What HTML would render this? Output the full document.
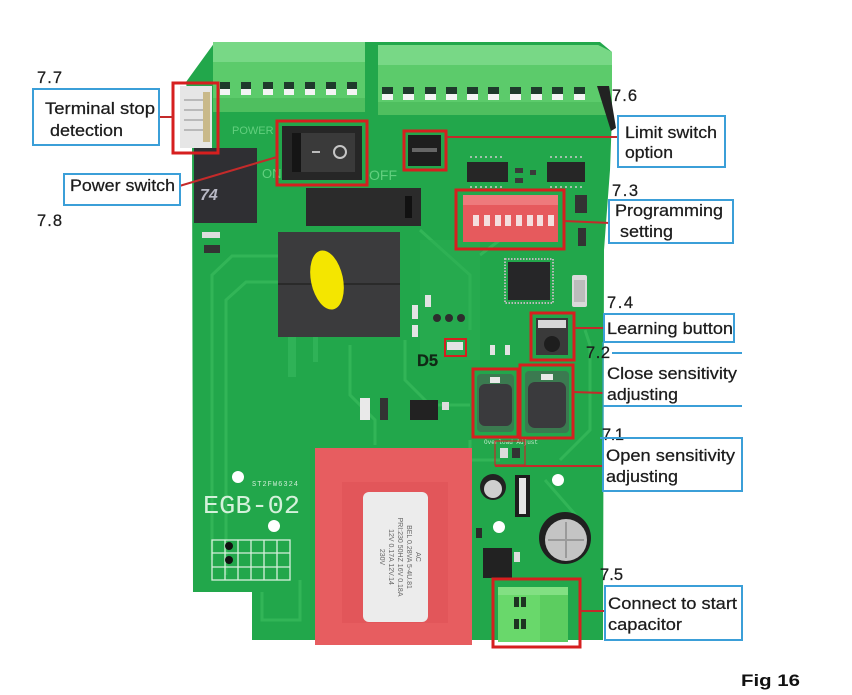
<!DOCTYPE html>
<html><head><meta charset="utf-8"><style>
html,body{margin:0;padding:0;background:#fff;}
svg{display:block;}
.lb{font-family:"Liberation Sans",Arial,sans-serif;font-size:16.5px;fill:#1c1c1c;stroke:#1c1c1c;stroke-width:0.25;}
</style></head><body>
<svg width="852" height="695" viewBox="0 0 852 695" xmlns="http://www.w3.org/2000/svg">
<rect width="852" height="695" fill="#fff"/>

<!-- board -->
<polygon points="215,42 600,42 612,52 612,115 610,170 604,250 603,640 252,640 252,592 193,592 192,130 186,82" fill="#22a74b"/>
<!-- traces -->
<g fill="none" stroke="#36b95b" stroke-width="3" opacity="0.8">
<polyline points="212,560 212,275 232,256 292,256"/>
<polyline points="226,575 226,300 246,282 278,282"/>
<polyline points="262,592 262,620 300,620 300,580"/>
<polyline points="350,345 350,395 375,420 375,445"/>
<polyline points="405,340 405,380 430,405 470,405"/>
<polyline points="420,230 470,275 470,330"/>
<polyline points="480,255 500,240 520,240"/>
<polyline points="585,330 590,345 590,430 560,460"/>
<polyline points="470,440 470,460 500,460"/>
<polyline points="545,480 580,520"/>
</g>
<rect x="420" y="240" width="60" height="120" fill="#2aae52" opacity="0.5"/>

<!-- left terminal block -->
<rect x="213" y="42" width="152" height="70" fill="#5ccb6b"/>
<rect x="213" y="42" width="152" height="20" fill="#78d886"/>
<rect x="213" y="98" width="152" height="14" fill="#4fbf5f"/>
<g>
<rect x="220" y="82" width="10" height="7" fill="#1f3a2c"/><rect x="220" y="89" width="10" height="6" fill="#f4f4f4"/>
<rect x="241" y="82" width="10" height="7" fill="#1f3a2c"/><rect x="241" y="89" width="10" height="6" fill="#f4f4f4"/>
<rect x="263" y="82" width="10" height="7" fill="#1f3a2c"/><rect x="263" y="89" width="10" height="6" fill="#f4f4f4"/>
<rect x="284" y="82" width="10" height="7" fill="#1f3a2c"/><rect x="284" y="89" width="10" height="6" fill="#f4f4f4"/>
<rect x="305" y="82" width="10" height="7" fill="#1f3a2c"/><rect x="305" y="89" width="10" height="6" fill="#f4f4f4"/>
<rect x="326" y="82" width="10" height="7" fill="#1f3a2c"/><rect x="326" y="89" width="10" height="6" fill="#f4f4f4"/>
<rect x="347" y="82" width="10" height="7" fill="#1f3a2c"/><rect x="347" y="89" width="10" height="6" fill="#f4f4f4"/>
</g>

<!-- right terminal block -->
<polygon points="378,45 598,45 612,52 612,115 378,115" fill="#5ccb6b"/>
<polygon points="378,45 598,45 612,52 612,65 378,65" fill="#78d886"/>
<rect x="378" y="102" width="234" height="13" fill="#4fbf5f"/>
<g fill="#1f3a2c">
<rect x="382" y="87" width="11" height="7"/><rect x="403" y="87" width="11" height="7"/><rect x="425" y="87" width="11" height="7"/><rect x="446" y="87" width="11" height="7"/><rect x="467" y="87" width="11" height="7"/><rect x="488" y="87" width="11" height="7"/><rect x="510" y="87" width="11" height="7"/><rect x="531" y="87" width="11" height="7"/><rect x="552" y="87" width="11" height="7"/><rect x="574" y="87" width="11" height="7"/>
</g>
<g fill="#f4f4f4">
<rect x="382" y="94" width="11" height="6"/><rect x="403" y="94" width="11" height="6"/><rect x="425" y="94" width="11" height="6"/><rect x="446" y="94" width="11" height="6"/><rect x="467" y="94" width="11" height="6"/><rect x="488" y="94" width="11" height="6"/><rect x="510" y="94" width="11" height="6"/><rect x="531" y="94" width="11" height="6"/><rect x="552" y="94" width="11" height="6"/><rect x="574" y="94" width="11" height="6"/>
</g>
<polygon points="597,86 609,86 616,128 611,131" fill="#222"/>

<!-- white connector 7.7 -->
<rect x="180" y="86" width="32" height="62" fill="#e6e6e6"/>
<g stroke="#b9b9b9" stroke-width="2"><line x1="184" y1="100" x2="208" y2="100"/><line x1="184" y1="110" x2="208" y2="110"/><line x1="184" y1="120" x2="208" y2="120"/><line x1="184" y1="130" x2="208" y2="130"/></g>
<rect x="203" y="92" width="7" height="50" fill="#c9b98a"/>

<!-- faint board labels -->
<text x="232" y="134" font-family="Liberation Sans,sans-serif" font-size="11" fill="#62cf7e">POWER</text>
<text x="262" y="178" font-family="Liberation Sans,sans-serif" font-size="13" fill="#62cf7e">ON</text>
<text x="369" y="180" font-family="Liberation Sans,sans-serif" font-size="14" fill="#62cf7e">OFF</text>

<!-- power switch -->
<rect x="282" y="126" width="80" height="54" fill="#262626"/>
<rect x="292" y="133" width="63" height="39" fill="#3a3a3a"/>
<rect x="292" y="133" width="9" height="39" fill="#151515"/>
<rect x="312" y="151" width="8" height="2" fill="#bbb"/>
<circle cx="340" cy="152" r="6" fill="none" stroke="#c6c6c6" stroke-width="2"/>

<!-- small relay -->
<rect x="194" y="148" width="63" height="75" fill="#2f2f33"/>
<text x="200" y="200" font-family="Liberation Sans,sans-serif" font-size="16" font-style="italic" font-weight="bold" fill="#b8b8c4">74</text>
<rect x="202" y="232" width="18" height="6" fill="#ddd"/>
<rect x="204" y="245" width="16" height="8" fill="#333"/>

<!-- fuse holder -->
<rect x="306" y="188" width="115" height="38" fill="#2b2b2b"/>
<rect x="405" y="196" width="7" height="22" fill="#111"/>

<!-- relays -->
<rect x="278" y="232" width="122" height="105" fill="#3b3b3d"/>
<line x1="278" y1="284" x2="400" y2="284" stroke="#2a2a2a" stroke-width="2"/>
<ellipse cx="327" cy="280" rx="16" ry="30" fill="#f4e600" transform="rotate(-12 327 280)"/>
<rect x="288" y="337" width="8" height="40" fill="#2fb257"/>
<rect x="313" y="337" width="5" height="25" fill="#2fb257"/>

<!-- jumper -->
<rect x="408" y="135" width="33" height="31" fill="#1e1e1e"/>
<rect x="412" y="148" width="25" height="4" fill="#666"/>

<!-- ICs -->
<rect x="467" y="162" width="41" height="20" fill="#262626"/>
<rect x="547" y="162" width="38" height="20" fill="#262626"/>
<g stroke="#ccc" stroke-width="1.5">
<line x1="470" y1="157" x2="505" y2="157" stroke-dasharray="2 3"/>
<line x1="470" y1="187" x2="505" y2="187" stroke-dasharray="2 3"/>
<line x1="550" y1="157" x2="583" y2="157" stroke-dasharray="2 3"/>
<line x1="550" y1="187" x2="583" y2="187" stroke-dasharray="2 3"/>
</g>
<g fill="#3a3a3a"><rect x="515" y="168" width="8" height="5"/><rect x="515" y="178" width="8" height="5"/><rect x="530" y="170" width="6" height="5"/></g>

<!-- DIP -->
<rect x="463" y="195" width="95" height="47" fill="#e65a5d"/>
<rect x="463" y="195" width="95" height="10" fill="#ee7a7c"/>
<g fill="#f4dede">
<rect x="473" y="215" width="6" height="11"/><rect x="484" y="215" width="6" height="11"/><rect x="495" y="215" width="6" height="11"/><rect x="505" y="215" width="6" height="11"/><rect x="516" y="215" width="6" height="11"/><rect x="527" y="215" width="6" height="11"/><rect x="537" y="215" width="6" height="11"/><rect x="548" y="215" width="6" height="11"/>
</g>
<rect x="575" y="195" width="12" height="18" fill="#333"/>
<rect x="578" y="228" width="8" height="18" fill="#333"/>

<!-- MCU -->
<rect x="505" y="259" width="48" height="44" fill="none" stroke="#bbb" stroke-width="2" stroke-dasharray="1.5 1.5"/>
<rect x="508" y="262" width="42" height="38" fill="#262628"/>
<!-- crystal -->
<rect x="572" y="275" width="15" height="32" fill="#d9d9d9" rx="2"/>
<rect x="574" y="280" width="11" height="22" fill="#bcbcbc"/>

<!-- learning button -->
<rect x="536" y="318" width="32" height="37" fill="#3a3a3a"/>
<rect x="538" y="320" width="28" height="8" fill="#d8d8d8"/>
<circle cx="552" cy="344" r="8" fill="#1e1e1e"/>

<!-- small smd near D5 -->
<g fill="#2d2d2d">
<circle cx="437" cy="318" r="4"/><circle cx="449" cy="318" r="4"/><circle cx="461" cy="318" r="4"/>
</g>
<g fill="#e3e3e3"><rect x="412" y="305" width="6" height="14"/><rect x="412" y="325" width="6" height="12"/><rect x="425" y="295" width="6" height="12"/><rect x="490" y="345" width="5" height="10"/><rect x="505" y="345" width="5" height="10"/><rect x="447" y="342" width="16" height="8"/></g>

<!-- optocoupler area -->
<rect x="410" y="400" width="28" height="20" fill="#222"/>
<rect x="360" y="398" width="10" height="22" fill="#e9e9e9"/>
<rect x="380" y="398" width="8" height="22" fill="#333"/>
<rect x="442" y="402" width="7" height="8" fill="#ddd"/>

<!-- pots -->
<rect x="477" y="374" width="37" height="58" rx="4" fill="#3b7a50"/>
<rect x="479" y="384" width="33" height="42" rx="6" fill="#3a3a3d"/>
<rect x="490" y="377" width="10" height="6" fill="#e8e8e8"/>
<rect x="525" y="371" width="44" height="62" rx="4" fill="#3b7a50"/>
<rect x="528" y="382" width="38" height="46" rx="7" fill="#3a3a3d"/>
<rect x="541" y="374" width="12" height="6" fill="#e8e8e8"/>

<!-- overload small parts -->
<rect x="500" y="448" width="8" height="10" fill="#dcdcdc"/>
<rect x="512" y="448" width="8" height="10" fill="#333"/>
<text x="484" y="444" font-family="Liberation Mono,monospace" font-size="6" fill="#bfe8c9">Overload Adjust</text>

<!-- transformer -->
<rect x="315" y="448" width="157" height="197" fill="#e75d60"/>
<rect x="342" y="482" width="106" height="141" fill="#e2565a"/>
<rect x="363" y="492" width="65" height="130" rx="6" fill="#ececec"/>
<g transform="translate(398 557) rotate(90)" font-family="Liberation Sans,sans-serif" font-size="7" fill="#666" text-anchor="middle">
<text y="-18">AC</text><text y="-9">BEL 0.28VA 5-4U.81</text><text y="0">PRI:230 50HZ 16V 0.18A</text><text y="9">12V 0.17A 12V.14</text><text y="18">230V</text>
</g>

<!-- lower right parts -->
<circle cx="493" cy="487" r="13" fill="#222"/>
<circle cx="493" cy="489" r="9" fill="#cfcfcf"/>
<rect x="515" y="475" width="15" height="42" fill="#1d1d1d"/>
<rect x="519" y="478" width="7" height="36" fill="#e5e5e5"/>
<circle cx="565" cy="538" r="26" fill="#202020"/>
<circle cx="566" cy="540" r="21" fill="#c4c4c4"/>
<line x1="548" y1="540" x2="584" y2="540" stroke="#9a9a9a" stroke-width="2"/>
<line x1="566" y1="522" x2="566" y2="558" stroke="#9a9a9a" stroke-width="2"/>
<rect x="483" y="548" width="29" height="30" fill="#222"/>
<rect x="514" y="552" width="6" height="10" fill="#ddd"/>
<rect x="476" y="528" width="6" height="10" fill="#2a2a2a"/>

<!-- capacitor connector -->
<rect x="498" y="587" width="70" height="55" fill="#69d86b"/>
<rect x="498" y="587" width="70" height="8" fill="#82e083"/>
<rect x="540" y="595" width="28" height="47" fill="#5ccd60"/>
<rect x="514" y="597" width="5" height="10" fill="#1e3322"/><rect x="521" y="597" width="5" height="10" fill="#1e3322"/>
<rect x="514" y="619" width="5" height="10" fill="#1e3322"/><rect x="521" y="619" width="5" height="10" fill="#1e3322"/>

<!-- holes -->
<g fill="#fff"><circle cx="238" cy="477" r="6"/><circle cx="274" cy="526" r="6"/><circle cx="558" cy="480" r="6"/><circle cx="499" cy="527" r="6"/></g>

<!-- silkscreen EGB -->
<text x="252" y="486" font-family="Liberation Mono,monospace" font-size="7" fill="#cfeed6" textLength="46">ST2FW6324</text>
<text x="203" y="513" font-family="Liberation Mono,monospace" font-size="26" fill="#d4f1db" textLength="97" lengthAdjust="spacingAndGlyphs">EGB-02</text>
<g fill="none" stroke="#d7f0dc" stroke-width="1.3">
<rect x="212" y="540" width="78" height="40"/>
<line x1="225" y1="540" x2="225" y2="580"/><line x1="238" y1="540" x2="238" y2="580"/><line x1="251" y1="540" x2="251" y2="580"/><line x1="264" y1="540" x2="264" y2="580"/><line x1="277" y1="540" x2="277" y2="580"/>
<line x1="212" y1="553" x2="290" y2="553"/><line x1="212" y1="567" x2="290" y2="567"/>
</g>
<circle cx="229" cy="546" r="4" fill="#111"/><circle cx="229" cy="560" r="4" fill="#111"/>

<!-- red highlight boxes -->
<g fill="none" stroke="#d61f1f" stroke-width="3">
<rect x="173" y="83" width="45" height="70"/>
<rect x="277" y="121" width="90" height="64"/>
<rect x="404" y="131" width="42" height="39"/>
<rect x="456" y="190" width="108" height="59"/>
<rect x="531" y="313" width="43" height="47"/>
<rect x="445" y="339" width="21" height="17" stroke-width="2"/>
<rect x="473" y="369" width="45" height="68"/>
<rect x="520" y="365" width="53" height="73"/>
<rect x="493" y="579" width="87" height="68"/>
</g>
<g stroke="#c42a2a" stroke-width="2" fill="none">
<rect x="495" y="441" width="30" height="24" stroke-width="1.2"/>
<line x1="160" y1="117" x2="173" y2="117"/>
<line x1="176" y1="187" x2="277" y2="157"/>
<line x1="446" y1="137" x2="617" y2="137"/>
<line x1="564" y1="221" x2="610" y2="223"/>
<line x1="574" y1="328" x2="610" y2="328"/>
<line x1="573" y1="392" x2="603" y2="393"/>
<line x1="495" y1="466" x2="602" y2="466"/>
<line x1="580" y1="611" x2="604" y2="611"/>
</g>

<!-- blue label boxes -->
<g fill="#fff" stroke="#3b9fd8" stroke-width="2">
<rect x="33" y="89" width="126" height="56"/>
<rect x="64" y="174" width="116" height="31"/>
<rect x="618" y="116" width="107" height="51"/>
<rect x="609" y="200" width="124" height="43"/>
<rect x="604" y="314" width="130" height="28"/>
<rect x="603" y="438" width="139" height="53"/>
<rect x="605" y="586" width="137" height="54"/>
</g>
<g stroke="#3b9fd8" stroke-width="2">
<line x1="612" y1="353" x2="742" y2="353"/>
<line x1="603" y1="406" x2="742" y2="406"/>
<line x1="603" y1="342" x2="603" y2="438" stroke-width="1.5" opacity="0.7"/>
</g>
<rect x="605" y="354" width="137" height="51" fill="#fff"/>
<line x1="160" y1="117" x2="173" y2="117" stroke="#c42a2a" stroke-width="2"/>

<!-- label text -->
<text class="lb" x="37" y="83" textLength="25">7.7</text>
<text class="lb" x="45" y="114" textLength="110" lengthAdjust="spacingAndGlyphs">Terminal stop</text>
<text class="lb" x="50" y="136" textLength="73" lengthAdjust="spacingAndGlyphs">detection</text>
<text class="lb" x="70" y="191" textLength="105" lengthAdjust="spacingAndGlyphs">Power switch</text>
<text class="lb" x="37" y="226" textLength="25">7.8</text>
<text class="lb" x="612" y="101" textLength="25">7.6</text>
<text class="lb" x="625" y="138" textLength="92" lengthAdjust="spacingAndGlyphs">Limit switch</text>
<text class="lb" x="625" y="158" textLength="48" lengthAdjust="spacingAndGlyphs">option</text>
<text class="lb" x="612" y="196" textLength="26">7.3</text>
<text class="lb" x="615" y="216" textLength="108" lengthAdjust="spacingAndGlyphs">Programming</text>
<text class="lb" x="620" y="237" textLength="53" lengthAdjust="spacingAndGlyphs">setting</text>
<text class="lb" x="607" y="308" textLength="26">7.4</text>
<text class="lb" x="607" y="334" textLength="126" lengthAdjust="spacingAndGlyphs">Learning button</text>
<text class="lb" x="586" y="358" textLength="24">7.2</text>
<text class="lb" x="607" y="379" textLength="130" lengthAdjust="spacingAndGlyphs">Close sensitivity</text>
<text class="lb" x="607" y="400" textLength="71" lengthAdjust="spacingAndGlyphs">adjusting</text>
<text class="lb" x="602" y="440" textLength="22">7.1</text>
<rect x="600" y="437" width="30" height="2" fill="#3b9fd8"/>
<text class="lb" x="606" y="461" textLength="129" lengthAdjust="spacingAndGlyphs">Open sensitivity</text>
<text class="lb" x="606" y="482" textLength="72" lengthAdjust="spacingAndGlyphs">adjusting</text>
<text class="lb" x="600" y="580" textLength="23">7.5</text>
<text class="lb" x="608" y="609" textLength="129" lengthAdjust="spacingAndGlyphs">Connect to start</text>
<text class="lb" x="608" y="630" textLength="74" lengthAdjust="spacingAndGlyphs">capacitor</text>
<text class="lb" x="417" y="366" textLength="21" style="font-weight:bold;fill:#0e2a14">D5</text>
<text x="741" y="686" font-family="Liberation Sans,sans-serif" font-size="17" font-weight="bold" fill="#111" textLength="59" lengthAdjust="spacingAndGlyphs">Fig 16</text>
</svg>
</body></html>
